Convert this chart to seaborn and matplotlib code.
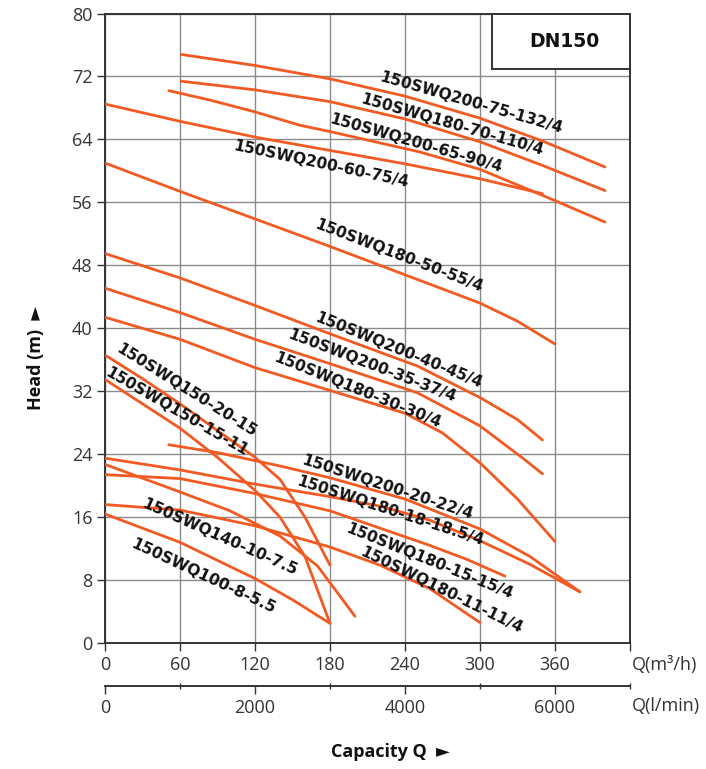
"""
DN150 pump performance curves (Head vs Capacity).
"""

import matplotlib
matplotlib.use("Agg")
import pandas as pd
import matplotlib.pyplot as plt
from matplotlib.patches import Rectangle
import seaborn as sns

sns.set_style("ticks")
plt.rcParams["font.family"] = ["Open Sans", "DejaVu Sans"]

ORANGE = "#F15A22"

# curve data: Q in m3/h, H in m
q_75_132 = [61, 120, 180, 240, 300, 350, 400]
h_75_132 = [74.8, 73.4, 71.7, 69.5, 66.7, 63.8, 60.5]

q_70_110 = [61, 120, 180, 240, 300, 350, 400]
h_70_110 = [71.4, 70.3, 68.8, 66.6, 63.7, 60.7, 57.5]

q_65_90 = [51, 84, 120, 156, 180, 252, 300, 350, 400]
h_65_90 = [70.2, 69.0, 67.5, 65.8, 65.0, 62.4, 60.2, 56.9, 53.5]

q_60_75 = [0, 60, 120, 180, 240, 300, 350]
h_60_75 = [68.5, 66.3, 64.3, 62.6, 60.9, 59.0, 57.1]

q_50_55 = [0, 60, 120, 180, 240, 300, 330, 360]
h_50_55 = [61.0, 57.4, 53.9, 50.4, 46.8, 43.2, 40.9, 38.0]

q_40_45 = [0, 60, 120, 180, 250, 300, 330, 350]
h_40_45 = [49.5, 46.4, 42.9, 39.3, 35.2, 31.2, 28.4, 25.8]

q_35_37 = [0, 60, 120, 180, 250, 300, 335, 350]
h_35_37 = [45.1, 42.0, 38.6, 35.5, 31.8, 27.6, 23.4, 21.5]

q_30_30 = [0, 60, 120, 180, 240, 270, 300, 330, 360]
h_30_30 = [41.4, 38.6, 35.0, 32.1, 29.2, 26.7, 22.9, 18.3, 12.9]

q_150_20 = [0, 30, 60, 90, 120, 140, 160, 180]
h_150_20 = [36.6, 33.6, 30.4, 27.0, 23.6, 20.8, 16.0, 9.9]

q_150_15 = [0, 30, 60, 90, 120, 140, 160, 180]
h_150_15 = [33.5, 30.4, 27.3, 23.6, 19.4, 16.0, 11.0, 2.5]

q_140_10 = [0, 60, 100, 140, 170, 200]
h_140_10 = [22.7, 19.2, 16.8, 13.6, 9.8, 3.4]

q_200_20 = [51, 90, 140, 180, 240, 300, 340, 380]
h_200_20 = [25.2, 24.2, 22.5, 21.0, 18.3, 14.5, 11.0, 6.5]

q_180_18 = [0, 60, 120, 180, 220, 260, 300, 340, 380]
h_180_18 = [23.5, 22.0, 20.2, 18.6, 17.4, 15.6, 13.0, 10.0, 6.5]

q_180_15 = [0, 60, 120, 180, 220, 260, 290, 320]
h_180_15 = [21.4, 20.9, 19.0, 16.8, 14.6, 12.4, 10.6, 8.5]

q_180_11 = [0, 60, 120, 180, 220, 260, 300]
h_180_11 = [17.6, 16.9, 14.9, 12.2, 9.9, 6.9, 2.6]

q_100_8 = [0, 60, 120, 150, 180]
h_100_8 = [16.4, 12.8, 8.2, 5.5, 2.5]

models = [
    "150SWQ200-75-132/4", "150SWQ180-70-110/4", "150SWQ200-65-90/4",
    "150SWQ200-60-75/4", "150SWQ180-50-55/4", "150SWQ200-40-45/4",
    "150SWQ200-35-37/4", "150SWQ180-30-30/4", "150SWQ150-20-15",
    "150SWQ150-15-11", "150SWQ140-10-7.5", "150SWQ200-20-22/4",
    "150SWQ180-18-18.5/4", "150SWQ180-15-15/4", "150SWQ180-11-11/4",
    "150SWQ100-8-5.5",
]
curves = [
    (q_75_132, h_75_132), (q_70_110, h_70_110), (q_65_90, h_65_90),
    (q_60_75, h_60_75), (q_50_55, h_50_55), (q_40_45, h_40_45),
    (q_35_37, h_35_37), (q_30_30, h_30_30), (q_150_20, h_150_20),
    (q_150_15, h_150_15), (q_140_10, h_140_10), (q_200_20, h_200_20),
    (q_180_18, h_180_18), (q_180_15, h_180_15), (q_180_11, h_180_11),
    (q_100_8, h_100_8),
]

# label anchor (Q, H) and text angle
label_q = [293, 278, 249, 173, 235, 235, 214, 202, 65, 57, 92, 226, 228, 260, 269, 79]
label_h = [68.7, 65.9, 63.5, 60.9, 49.2, 37.2, 35.2, 32.1, 32.1, 29.4, 13.5, 19.8, 16.8, 10.4, 6.7, 8.5]
label_rot = [16, 16, 16, 12, 21, 22, 21, 22, 32, 30, 24, 18, 18, 22, 26, 25]

x_ticks = [0, 60, 120, 180, 240, 300, 360, 420]
x_ticklabels = ["0", "60", "120", "180", "240", "300", "360", ""]
y_ticks = [0, 8, 16, 24, 32, 40, 48, 56, 64, 72, 80]
lmin_ticks = [0, 2000, 4000, 6000]
lmin_minor = [1000, 3000, 5000, 7000]


def build_frame() -> pd.DataFrame:
    parts = []
    for name, (q, h) in zip(models, curves):
        parts.append(pd.DataFrame({"Q": q, "H": h, "model": name}))
    return pd.concat(parts, ignore_index=True)


def plot_dn150() -> None:
    df = build_frame()

    fig = plt.figure(figsize=(7.06, 7.69), dpi=100)
    ax = fig.add_axes([0.1487, 0.1638, 0.7436, 0.8186])

    sns.lineplot(data=df, x="Q", y="H", units="model", estimator=None,
                 sort=False, color=ORANGE, linewidth=2.0, ax=ax, zorder=3)

    ax.set_xlim(0, 420)
    ax.set_ylim(0, 80)
    ax.set_xticks(x_ticks)
    ax.set_xticklabels(x_ticklabels)
    ax.set_yticks(y_ticks)
    ax.grid(True, color="#8a8a8a", linewidth=1.0)
    ax.set_axisbelow(True)
    for sp in ax.spines.values():
        sp.set_visible(True)
        sp.set_color("#333333")
        sp.set_linewidth(1.4)
    ax.tick_params(axis="both", labelsize=13, colors="#333333", length=6,
                   width=1.0, pad=3)
    ax.set_xlabel("")
    ax.set_ylabel("")

    for name, q, h, r in zip(models, label_q, label_h, label_rot):
        ax.text(q, h, name, rotation=-r, rotation_mode="anchor",
                ha="center", va="center", fontsize=11.2, fontweight="bold",
                family="DejaVu Sans", color="#111111", zorder=4)

    # DN150 box
    ax.add_patch(Rectangle((0.737, 0.912), 0.263, 0.088, transform=ax.transAxes,
                           facecolor="white", edgecolor="#333333", linewidth=1.4,
                           zorder=5, clip_on=False))
    ax.text(0.875, 0.956, "DN150", transform=ax.transAxes, ha="center",
            va="center", fontsize=13.5, fontweight="bold", family="DejaVu Sans",
            color="#111111", zorder=6)

    # second capacity scale in l/min
    sec = ax.secondary_xaxis(-0.0683, functions=(lambda q: q * 1000 / 60,
                                                 lambda l: l * 60 / 1000))
    sec.set_xticks(lmin_ticks)
    sec.set_xticks(lmin_minor, minor=True)
    sec.spines["bottom"].set_color("#333333")
    sec.spines["bottom"].set_linewidth(1.4)
    sec.tick_params(axis="x", which="major", labelsize=13, colors="#333333",
                    length=6, width=1.0, pad=3)
    sec.tick_params(axis="x", which="minor", length=4, width=1.0,
                    direction="inout", colors="#333333")

    fig.text(0.895, 1 - 665 / 769, "Q(m³/h)", ha="left", va="center",
             fontsize=13, color="#333333")
    fig.text(0.895, 1 - 706 / 769, "Q(l/min)", ha="left", va="center",
             fontsize=13, color="#333333")
    fig.text(390 / 706, 1 - 752 / 769, "Capacity Q  ►", ha="center",
             va="center", fontsize=13, fontweight="bold", color="#111111",
             family=["Open Sans", "DejaVu Sans"])
    fig.text(36 / 706, 1 - 358 / 769, "Head (m)  ►", ha="center", va="center",
             rotation=90, fontsize=13, fontweight="bold", color="#111111",
             family=["Open Sans", "DejaVu Sans"])

    fig.savefig("out.png", dpi=100)
    plt.close(fig)


if __name__ == "__main__":
    plot_dn150()
